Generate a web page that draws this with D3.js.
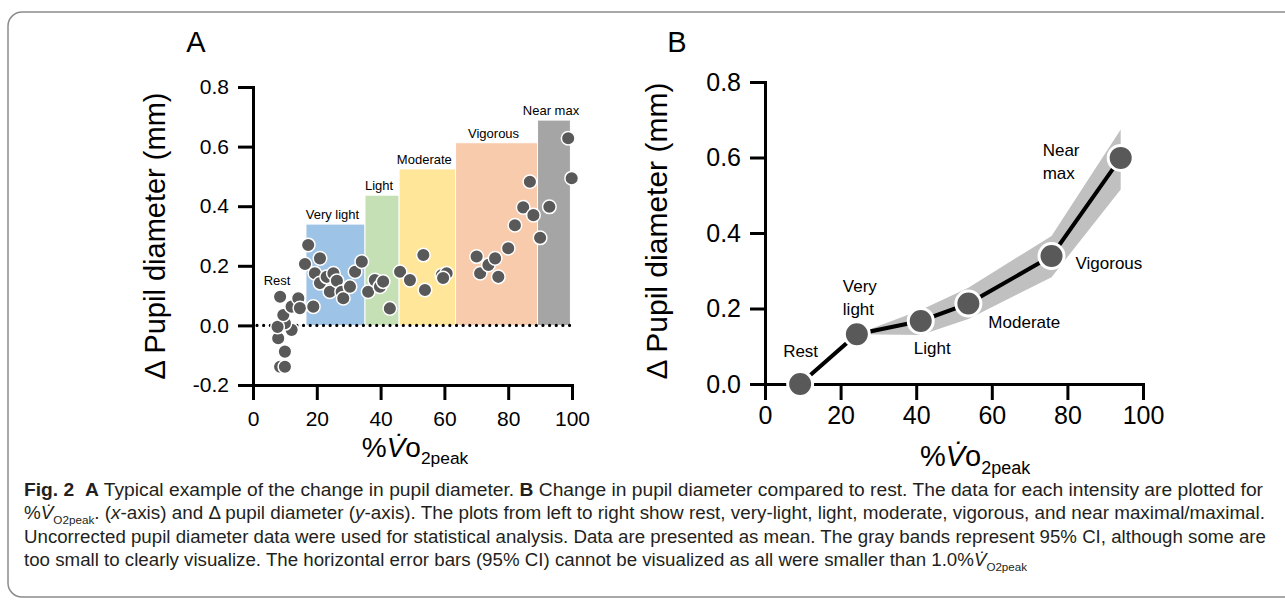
<!doctype html>
<html>
<head>
<meta charset="utf-8">
<script src="https://cdnjs.cloudflare.com/ajax/libs/d3/7.8.5/d3.min.js"></script>
<style>
  body { margin: 0; background: #fff; }
  svg text { font-family: "Liberation Sans", Arial, sans-serif; white-space: pre; }
</style>
</head>
<body>
<svg width="1285" height="603"></svg>
<script>
// ---- panel A: one subject, every sample ----
var scatterX = [8.5, 10.0, 10.0, 7.9, 12.1, 10.0, 7.7, 9.5, 8.5, 12.1, 14.2, 14.7,
  16.3, 17.3, 18.9, 19.4, 21.0, 21.0, 23.1, 24.1, 25.2, 26.3, 27.8, 28.3, 30.4, 32.0, 34.1,
  36.1, 38.2, 39.8, 40.8, 42.9, 46.1,
  49.2, 53.4, 53.9, 59.2, 60.7, 59.6,
  70.1, 71.2, 73.8, 75.9, 76.9, 80.0, 82.1, 84.7, 86.8, 87.9,
  90.0, 92.9, 98.8, 99.9];
var scatterY = [-0.139, -0.139, -0.088, -0.043, -0.015, 0.007, -0.005, 0.035, 0.096, 0.063, 0.091, 0.058,
  0.206, 0.270, 0.063, 0.175, 0.225, 0.142, 0.163, 0.113, 0.175, 0.150, 0.113, 0.091, 0.130, 0.180, 0.214,
  0.113, 0.152, 0.130, 0.147, 0.057, 0.180,
  0.152, 0.236, 0.119, 0.169, 0.175, 0.159,
  0.231, 0.175, 0.203, 0.225, 0.163, 0.259, 0.336, 0.396, 0.482, 0.370,
  0.294, 0.398, 0.628, 0.494];

var bandNames = ["Very light", "Light", "Moderate", "Vigorous", "Near max"];
var bandStart = [16.6, 35.1, 45.8, 63.5, 89.2];
var bandEnd   = [35.1, 45.8, 63.5, 89.2, 99.5];
var bandTop   = [0.34, 0.437, 0.525, 0.613, 0.689];
var bandColors = ["#9dc3e6", "#c5e0b4", "#ffe699", "#f8cbad", "#a5a5a5"];

// ---- panel B: group means ----
var intensities = ["Rest", "Very light", "Light", "Moderate", "Vigorous", "Near max"];
var meanX = [9.3, 24.3, 41.2, 53.8, 75.8, 94.1];
var meanY = [0.0, 0.132, 0.167, 0.213, 0.339, 0.599];
var ciLow  = [0.0, 0.132, 0.130, 0.172, 0.283, 0.515];
var ciHigh = [0.0, 0.132, 0.196, 0.255, 0.392, 0.674];

var xTicks = [0, 20, 40, 60, 80, 100];
var yTicksA = [-0.2, 0.0, 0.2, 0.4, 0.6, 0.8];
var yTicksB = [0.0, 0.2, 0.4, 0.6, 0.8];

var svg = d3.select("svg");

// frame
svg.append("rect")
  .attr("x", 8).attr("y", 12).attr("width", 1300).attr("height", 585).attr("rx", 14)
  .attr("fill", "none").attr("stroke", "#8c8c8c").attr("stroke-width", 1.5);

function richText(sel, segs, size) {
  var shift = 0;
  segs.forEach(function(s) {
    var t = sel.append("tspan").text(s[0]);
    var st = s[1] || "";
    if (st.indexOf("b") >= 0) t.attr("font-weight", "bold");
    if (st.indexOf("i") >= 0) t.attr("font-style", "italic");
    if (st.indexOf("s") >= 0) {
      t.attr("font-size", size * 0.62);
      if (shift === 0) { shift = size * 0.26; t.attr("dy", shift); }
    } else if (shift !== 0) {
      t.attr("dy", -shift); shift = 0;
    }
  });
}

function styleAxis(g, size) {
  g.select(".domain").attr("stroke-width", 3).attr("stroke-linecap", "square");
  g.selectAll(".tick line").attr("stroke-width", 3);
  g.selectAll(".tick text").attr("font-size", size).attr("fill", "#000")
    .attr("font-family", "'Liberation Sans', Arial, sans-serif");
}

// ================= Panel A =================
var xA = d3.scaleLinear().domain([0, 100]).range([253, 572]);
var yA = d3.scaleLinear().domain([-0.2, 0.8]).range([385, 87]);
var gA = svg.append("g");

gA.selectAll("rect.band").data(bandNames).enter().append("rect")
  .attr("class", "band")
  .attr("x", (d, i) => xA(bandStart[i]))
  .attr("width", (d, i) => xA(bandEnd[i]) - xA(bandStart[i]))
  .attr("y", (d, i) => yA(bandTop[i]))
  .attr("height", (d, i) => yA(0) - yA(bandTop[i]))
  .attr("fill", (d, i) => bandColors[i])
  .attr("stroke", "#fff").attr("stroke-width", 1);

gA.selectAll("text.bandlabel").data(bandNames).enter().append("text")
  .attr("class", "bandlabel")
  .attr("x", (d, i) => (xA(bandStart[i]) + xA(bandEnd[i])) / 2 - 3)
  .attr("y", (d, i) => yA(bandTop[i]) - 5)
  .attr("text-anchor", "middle").attr("font-size", 13)
  .text(d => d);

gA.append("text").attr("x", 277).attr("y", 285).attr("text-anchor", "middle")
  .attr("font-size", 13).text("Rest");

gA.append("line")
  .attr("x1", xA(0) + 4).attr("x2", xA(100)).attr("y1", yA(0)).attr("y2", yA(0))
  .attr("stroke", "#000").attr("stroke-width", 3.2)
  .attr("stroke-linecap", "round").attr("stroke-dasharray", "0,6.65");

gA.selectAll("circle").data(scatterX).enter().append("circle")
  .attr("cx", d => xA(d))
  .attr("cy", (d, i) => yA(scatterY[i]))
  .attr("r", 6.8)
  .attr("fill", "#595959").attr("stroke", "#fff").attr("stroke-width", 1.5);

var axAx = gA.append("g").attr("transform", "translate(0," + yA(-0.2) + ")")
  .call(d3.axisBottom(xA).tickValues(xTicks).tickSize(15).tickSizeOuter(0).tickPadding(11));
styleAxis(axAx, 21);
var axAy = gA.append("g").attr("transform", "translate(" + xA(0) + ",0)")
  .call(d3.axisLeft(yA).tickValues(yTicksA).tickSize(15).tickSizeOuter(0).tickPadding(9)
    .tickFormat(d => d.toFixed(1)));
styleAxis(axAy, 21);

gA.append("text").attr("x", 196).attr("y", 52).attr("text-anchor", "middle")
  .attr("font-size", 29).text("A");

gA.append("text").attr("transform", "translate(165,236) rotate(-90)")
  .attr("text-anchor", "middle").attr("font-size", 29).text("\u0394 Pupil diameter (mm)");

var xlabA = gA.append("text").attr("x", 415).attr("y", 457).attr("text-anchor", "middle")
  .attr("font-size", 28);
richText(xlabA, [["%"], ["V\u0307", "i"], ["o"], ["2peak", "s"]], 28);

// ================= Panel B =================
var xB = d3.scaleLinear().domain([0, 100]).range([765, 1143]);
var yB = d3.scaleLinear().domain([0, 0.8]).range([384, 82]);
var gB = svg.append("g");

var idx = d3.range(1, intensities.length);
gB.append("path")
  .attr("d", d3.area().x(i => xB(meanX[i])).y0(i => yB(ciLow[i])).y1(i => yB(ciHigh[i]))(idx))
  .attr("fill", "#c0c0c0");

gB.append("path")
  .attr("d", d3.line().x(i => xB(meanX[i])).y(i => yB(meanY[i]))(d3.range(intensities.length)))
  .attr("fill", "none").attr("stroke", "#000").attr("stroke-width", 4);

var axBx = gB.append("g").attr("transform", "translate(0," + yB(0) + ")")
  .call(d3.axisBottom(xB).tickValues(xTicks).tickSize(16).tickSizeOuter(0).tickPadding(6));
styleAxis(axBx, 25);
var axBy = gB.append("g").attr("transform", "translate(" + xB(0) + ",0)")
  .call(d3.axisLeft(yB).tickValues(yTicksB).tickSize(15).tickSizeOuter(0).tickPadding(9)
    .tickFormat(d => d.toFixed(1)));
styleAxis(axBy, 25);

gB.selectAll("circle").data(meanX).enter().append("circle")
  .attr("cx", d => xB(d))
  .attr("cy", (d, i) => yB(meanY[i]))
  .attr("r", 12.5)
  .attr("fill", "#595959").attr("stroke", "#fff").attr("stroke-width", 3);

var labelDx = [-17, -14, -7, 20, 24, -78];
var labelDy = [-27, -42, 33, 24, 13, -2];
gB.selectAll("text.ptlabel").data(intensities).enter().append("text")
  .attr("class", "ptlabel")
  .attr("font-family", "'DejaVu Sans', Verdana, sans-serif").attr("font-size", 17)
  .attr("x", (d, i) => xB(meanX[i]) + labelDx[i])
  .attr("y", (d, i) => yB(meanY[i]) + labelDy[i])
  .each(function(d, i) {
    var words = (i === 1 || i === 5) ? d.split(" ") : [d];
    var t = d3.select(this);
    words.forEach(function(w, k) {
      t.append("tspan").attr("x", xB(meanX[i]) + labelDx[i]).attr("dy", k ? 23 : 0).text(w);
    });
  });

gB.append("text").attr("x", 677).attr("y", 52).attr("text-anchor", "middle")
  .attr("font-size", 29).text("B");

gB.append("text").attr("transform", "translate(667,231) rotate(-90)")
  .attr("text-anchor", "middle").attr("font-size", 30).text("\u0394 Pupil diameter (mm)");

var xlabB = gB.append("text").attr("x", 975).attr("y", 466).attr("text-anchor", "middle")
  .attr("font-size", 29);
richText(xlabB, [["%"], ["V\u0307", "i"], ["o"], ["2peak", "s"]], 29);

// ================= caption =================
var capLines = [
  [["Fig. 2", "b"], ["  "], ["A", "b"], [" Typical example of the change in pupil diameter. "], ["B", "b"],
   [" Change in pupil diameter compared to rest. The data for each intensity are plotted for"]],
  [["%"], ["V\u0307", "i"], ["O2peak", "s"], [". ("], ["x", "i"], ["-axis) and \u0394 pupil diameter ("], ["y", "i"],
   ["-axis). The plots from left to right show rest, very-light, light, moderate, vigorous, and near maximal/maximal."]],
  [["Uncorrected pupil diameter data were used for statistical analysis. Data are presented as mean. The gray bands represent 95% CI, although some are"]],
  [["too small to clearly visualize. The horizontal error bars (95% CI) cannot be visualized as all were smaller than 1.0%"],
   ["V\u0307", "i"], ["O2peak", "s"]]
];
var capLen = [1239, 1241, 1242, 1003];
capLines.forEach(function(segs, k) {
  var t = svg.append("text").attr("x", 24).attr("y", 496 + k * 23.4)
    .attr("font-family", "'Liberation Sans Narrow', 'DejaVu Sans Condensed', 'Liberation Sans', sans-serif")
    .attr("font-size", 17.5).attr("fill", "#231f20")
    .attr("textLength", capLen[k]).attr("lengthAdjust", "spacingAndGlyphs");
  richText(t, segs, 17.5);
});
</script>
</body>
</html>
